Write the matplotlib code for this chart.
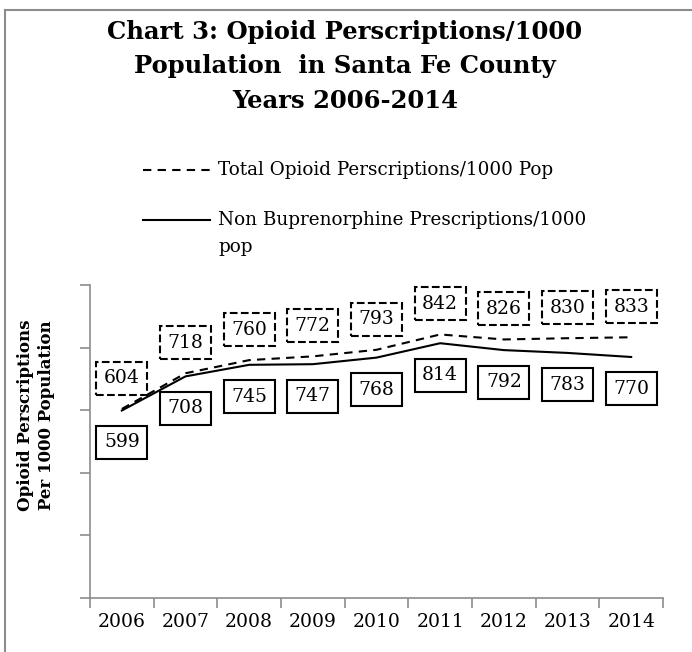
import matplotlib
matplotlib.use("Agg")
import matplotlib.pyplot as plt
import numpy as np
from matplotlib.lines import Line2D

years = ["2006", "2007", "2008", "2009", "2010", "2011", "2012", "2013", "2014"]
total = [604, 718, 760, 772, 793, 842, 826, 830, 833]
non_bup = [599, 708, 745, 747, 768, 814, 792, 783, 770]

title = "Chart 3: Opioid Perscriptions/1000\nPopulation  in Santa Fe County\nYears 2006-2014"
legend_total = "Total Opioid Perscriptions/1000 Pop"
legend_non = "Non Buprenorphine Prescriptions/1000\npop"
ylabel = "Opioid Perscriptions\nPer 1000 Population"

plt.rcParams['font.family'] = ['DejaVu Serif']

W, H = 692, 652
fig = plt.figure(figsize=(W / 100, H / 100), dpi=100)

def fx(px):
    return px / W

def fy(py):
    return 1 - py / H

grey = '#8c8c8c'

# outer chart border (top and left visible)
fig.add_artist(Line2D([fx(5), 1.0], [fy(10), fy(10)], color=grey, lw=1.5))
fig.add_artist(Line2D([fx(5), fx(5)], [fy(10), 0.0], color=grey, lw=1.5))

ax = fig.add_axes([fx(90), fy(598), fx(663) - fx(90), fy(285) - fy(598)])
x = np.arange(len(years))
dash = (0, (4, 3))
ax.plot(x, total, color='black', lw=1.5, ls=dash)
ax.plot(x, non_bup, color='black', lw=1.5)

ax.set_xlim(-0.5, len(years) - 0.5)
ax.set_ylim(0, 1000)
ax.set_yticks(np.arange(0, 1001, 200))
ax.set_yticklabels([])
ax.set_xticks(x)
ax.set_xticklabels(years, fontsize=13.5)
ax.set_xticks(np.arange(-0.5, len(years), 1), minor=True)
ax.tick_params(axis='x', which='major', length=0, pad=11)
ax.tick_params(axis='x', which='minor', length=7, width=1.2, color=grey)
ax.tick_params(axis='y', length=7, width=1.2, color=grey)
for s in ['top', 'right']:
    ax.spines[s].set_visible(False)
for s in ['left', 'bottom']:
    ax.spines[s].set_color(grey)
    ax.spines[s].set_linewidth(1.2)

for xi, v in zip(x, total):
    ax.annotate(str(v), (xi, v), xytext=(0, 22), textcoords='offset points',
                ha='center', va='center', fontsize=13.5,
                bbox=dict(boxstyle='square,pad=0.4', fc='white', ec='black', lw=1.5, ls='--'))
for xi, v in zip(x, non_bup):
    ax.annotate(str(v), (xi, v), xytext=(0, -23), textcoords='offset points',
                ha='center', va='center', fontsize=13.5,
                bbox=dict(boxstyle='square,pad=0.4', fc='white', ec='black', lw=1.5))

# title
fig.text(fx(345), fy(20), title, ha='center', va='top', fontsize=17.5,
         fontweight='bold', linespacing=1.55)

# legend
fig.add_artist(Line2D([fx(143), fx(212)], [fy(170), fy(170)], color='black', lw=1.5, ls=dash))
fig.text(fx(218), fy(170), legend_total, ha='left', va='center', fontsize=13.2)
fig.add_artist(Line2D([fx(143), fx(210)], [fy(220), fy(220)], color='black', lw=1.5))
fig.text(fx(218), fy(211), legend_non, ha='left', va='top', fontsize=13.2, linespacing=1.66)

# y label
fig.text(fx(36), fy(415), ylabel, ha='center', va='center', rotation=90,
         fontsize=12, fontweight='bold', linespacing=1.3)

fig.savefig('out.png', dpi=100)
